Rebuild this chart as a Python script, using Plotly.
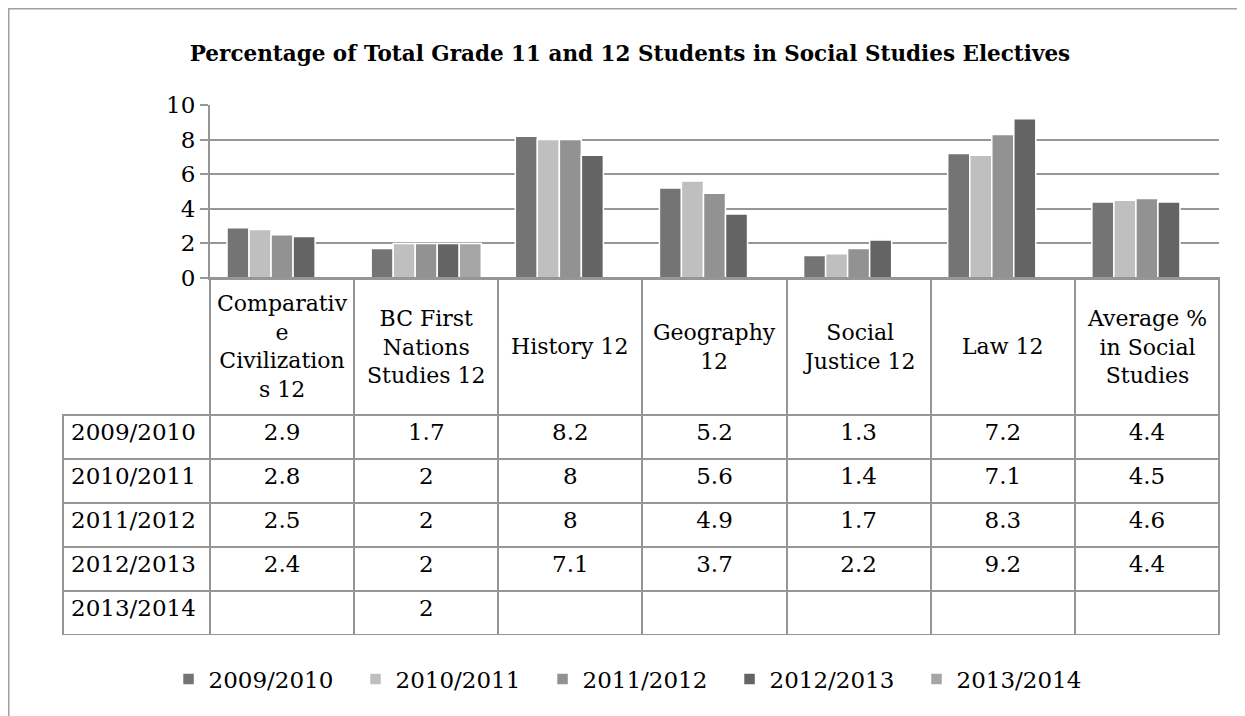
import plotly.graph_objects as go

categories = ["Comparative Civilizations 12", "BC First Nations Studies 12", "History 12",
              "Geography 12", "Social Justice 12", "Law 12", "Average % in Social Studies"]
header_labels = ["Comparativ<br>e<br>Civilization<br>s 12", "BC First<br>Nations<br>Studies 12",
                 "History 12", "Geography<br>12", "Social<br>Justice 12", "Law 12",
                 "Average %<br>in Social<br>Studies"]
years = ["2009/2010", "2010/2011", "2011/2012", "2012/2013", "2013/2014"]

y2009 = [2.9, 1.7, 8.2, 5.2, 1.3, 7.2, 4.4]
y2010 = [2.8, 2, 8, 5.6, 1.4, 7.1, 4.5]
y2011 = [2.5, 2, 8, 4.9, 1.7, 8.3, 4.6]
y2012 = [2.4, 2, 7.1, 3.7, 2.2, 9.2, 4.4]
y2013 = [None, 2, None, None, None, None, None]

series = [y2009, y2010, y2011, y2012, y2013]
colors = ["#747474", "#bfbfbf", "#929292", "#646464", "#a5a5a5"]

FONT = "DejaVu Serif"
GRID = "#969696"
# the page body adds an 8px margin, so figure pixels = screen pixels - 8
W, H = 1237, 708
L, R, T, B = 55, 1211, 97, 627          # plot/table block
AX_LEFT, ZERO_Y, HEAD_BOTTOM = 202, 270, 407

fig = go.Figure()

for name, vals, col in zip(years, series, colors):
    fig.add_trace(go.Bar(
        x=categories, y=vals, name=name,
        marker=dict(color=col, line=dict(color="white", width=1.5)),
    ))

# data table under the bars
def fmt(v):
    return "" if v is None else f"{v:g}"

table_cols = [years] + [[fmt(s[j]) for s in series] for j in range(len(categories))]
n = len(categories) + 1
fig.add_trace(go.Table(
    domain=dict(x=[0, 1], y=[0, (B - ZERO_Y) / (B - T)]),
    columnwidth=[AX_LEFT - L] + [(R - AX_LEFT) / len(categories)] * len(categories),
    header=dict(values=[""] * n, height=HEAD_BOTTOM - ZERO_Y,
                fill=dict(color="rgba(0,0,0,0)"),
                line=dict(color=["rgba(0,0,0,0)"] + [GRID] * (n - 1), width=[0] + [2] * (n - 1))),
    cells=dict(values=table_cols, height=44,
               align=["left"] + ["center"] * (n - 1),
               font=dict(family=FONT, size=23, color="black"),
               fill=dict(color="white"),
               line=dict(color=GRID, width=2)),
))

# category labels in the table header
hy = (B - (ZERO_Y + HEAD_BOTTOM) / 2) / (B - T)
for cat, lab in zip(categories, header_labels):
    fig.add_annotation(x=cat, xref="x", y=hy, yref="paper", text=lab,
                       showarrow=False, yanchor="middle", valign="middle",
                       font=dict(family=FONT, size=22, color="black"))

# outer chart border
fig.add_shape(type="rect", xref="paper", yref="paper",
              x0=(0.75 - L) / (R - L), x1=(1260 - L) / (R - L),
              y0=(B - 730) / (B - T), y1=(B - 0.75) / (B - T),
              line=dict(color="#a0a0a0", width=1.5))

fig.update_layout(
    width=W, height=H,
    margin=dict(l=L, r=W - R, t=T, b=H - B),
    paper_bgcolor="white", plot_bgcolor="white",
    font=dict(family=FONT, size=22, color="black"),
    title=dict(text="<b>Percentage of Total Grade 11 and 12 Students in Social Studies Electives</b>",
               x=622 / W, xref="container", xanchor="center",
               y=1 - 45 / H, yref="container", yanchor="middle",
               font=dict(family=FONT, size=21.5, color="black")),
    barmode="group", bargap=0.236, bargroupgap=0,
    xaxis=dict(domain=[(AX_LEFT - L) / (R - L), 1], showticklabels=False,
               showline=True, linecolor=GRID, linewidth=2, showgrid=False),
    yaxis=dict(domain=[(B - ZERO_Y) / (B - T), 1], range=[0, 10], dtick=2,
               showgrid=True, gridcolor=GRID, gridwidth=1.5,
               showline=True, linecolor=GRID, linewidth=2,
               ticks="outside", ticklen=8, tickcolor=GRID, tickwidth=1.5,
               tickfont=dict(family=FONT, size=23), zeroline=False),
    legend=dict(orientation="h", x=0.4957, xanchor="center", y=(B - 671) / (B - T),
                yanchor="middle", font=dict(family=FONT, size=23),
                itemwidth=30, entrywidth=142, traceorder="normal"),
)

fig.write_html("out.html")
